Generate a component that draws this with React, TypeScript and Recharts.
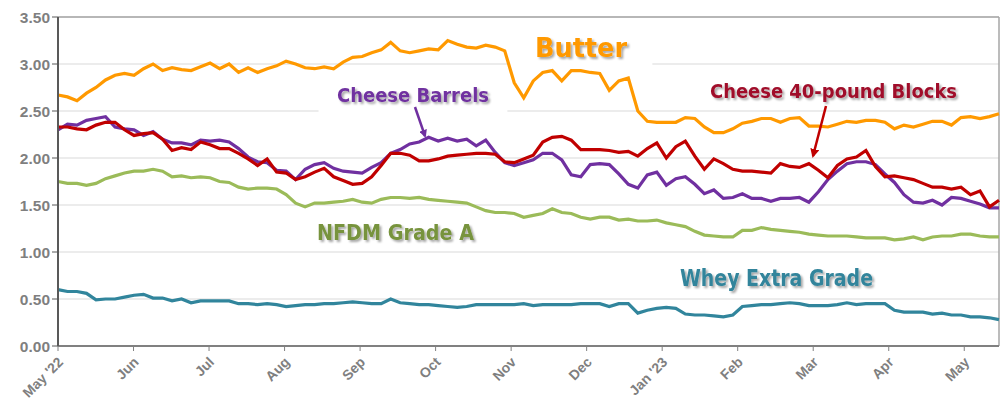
import { LineChart, Line, XAxis, YAxis, CartesianGrid, ReferenceLine, ReferenceArea } from 'recharts';

// month tick labels, one per month start
const MONTHS = ["May '22", 'Jun', 'Jul', 'Aug', 'Sep', 'Oct', 'Nov', 'Dec', "Jan '23", 'Feb', 'Mar', 'Apr', 'May'];
const Y_TICKS = [0, 0.5, 1, 1.5, 2, 2.5, 3, 3.5];

// sampled prices ($/lb), one reading every ~4 days from early May '22 to mid May '23
const BUTTER = [
  2.67, 2.65, 2.61, 2.69, 2.75, 2.83, 2.88, 2.90, 2.88, 2.95,
  3.00, 2.93, 2.96, 2.94, 2.93, 2.97, 3.01, 2.95, 3.00, 2.91,
  2.96, 2.91, 2.95, 2.98, 3.03, 3.00, 2.96, 2.95, 2.97, 2.95,
  3.02, 3.07, 3.08, 3.12, 3.15, 3.23, 3.14, 3.12, 3.14, 3.16,
  3.15, 3.25, 3.21, 3.18, 3.17, 3.20, 3.18, 3.14, 2.80, 2.64,
  2.82, 2.91, 2.93, 2.82, 2.93, 2.93, 2.91, 2.90, 2.72, 2.82,
  2.85, 2.50, 2.39, 2.38, 2.38, 2.38, 2.43, 2.42, 2.33, 2.27,
  2.27, 2.31, 2.37, 2.39, 2.42, 2.42, 2.38, 2.42, 2.43, 2.34,
  2.34, 2.33, 2.36, 2.39, 2.38, 2.40, 2.40, 2.38, 2.31, 2.35,
  2.33, 2.36, 2.39, 2.39, 2.35, 2.43, 2.44, 2.42, 2.44, 2.47,
];
const BARRELS = [
  2.30, 2.36, 2.35, 2.40, 2.42, 2.44, 2.33, 2.31, 2.30, 2.24,
  2.28, 2.20, 2.16, 2.16, 2.14, 2.19, 2.18, 2.19, 2.17, 2.10,
  2.01, 1.96, 1.95, 1.87, 1.86, 1.77, 1.88, 1.93, 1.95, 1.89,
  1.86, 1.85, 1.84, 1.90, 1.95, 2.05, 2.09, 2.15, 2.17, 2.22,
  2.18, 2.21, 2.18, 2.20, 2.13, 2.19, 2.06, 1.95, 1.92, 1.95,
  1.98, 2.05, 2.05, 1.98, 1.82, 1.80, 1.93, 1.94, 1.93, 1.83,
  1.72, 1.68, 1.82, 1.85, 1.71, 1.78, 1.80, 1.72, 1.62, 1.66,
  1.57, 1.58, 1.62, 1.57, 1.57, 1.54, 1.57, 1.57, 1.58, 1.53,
  1.64, 1.77, 1.86, 1.94, 1.96, 1.96, 1.93, 1.83, 1.74, 1.61,
  1.53, 1.52, 1.55, 1.50, 1.58, 1.57, 1.54, 1.51, 1.47, 1.47,
];
const BLOCKS = [
  2.33, 2.33, 2.31, 2.30, 2.35, 2.38, 2.38, 2.30, 2.24, 2.26,
  2.27, 2.20, 2.08, 2.11, 2.09, 2.17, 2.14, 2.10, 2.10, 2.05,
  1.99, 1.92, 1.99, 1.85, 1.84, 1.77, 1.80, 1.85, 1.89, 1.80,
  1.76, 1.72, 1.73, 1.80, 1.92, 2.05, 2.05, 2.03, 1.97, 1.97,
  1.99, 2.02, 2.03, 2.04, 2.05, 2.05, 2.04, 1.96, 1.95, 1.99,
  2.03, 2.17, 2.22, 2.23, 2.19, 2.09, 2.09, 2.09, 2.08, 2.06,
  2.07, 2.02, 2.10, 2.16, 2.00, 2.12, 2.18, 2.02, 1.88, 1.99,
  1.94, 1.88, 1.86, 1.86, 1.85, 1.84, 1.94, 1.91, 1.90, 1.94,
  1.87, 1.79, 1.92, 1.99, 2.01, 2.08, 1.91, 1.80, 1.81, 1.79,
  1.77, 1.73, 1.69, 1.69, 1.67, 1.69, 1.61, 1.65, 1.48, 1.55,
];
const NFDM = [
  1.75, 1.73, 1.73, 1.71, 1.73, 1.78, 1.81, 1.84, 1.86, 1.86,
  1.88, 1.86, 1.80, 1.81, 1.79, 1.80, 1.79, 1.75, 1.74, 1.69,
  1.67, 1.68, 1.68, 1.67, 1.61, 1.52, 1.48, 1.52, 1.52, 1.53,
  1.54, 1.56, 1.53, 1.52, 1.56, 1.58, 1.58, 1.57, 1.58, 1.56,
  1.55, 1.54, 1.53, 1.52, 1.48, 1.44, 1.42, 1.42, 1.41, 1.37,
  1.39, 1.41, 1.46, 1.42, 1.41, 1.37, 1.35, 1.37, 1.37, 1.34,
  1.35, 1.33, 1.33, 1.34, 1.31, 1.29, 1.27, 1.22, 1.18, 1.17,
  1.16, 1.16, 1.23, 1.23, 1.26, 1.24, 1.23, 1.22, 1.21, 1.19,
  1.18, 1.17, 1.17, 1.17, 1.16, 1.15, 1.15, 1.15, 1.13, 1.14,
  1.16, 1.13, 1.16, 1.17, 1.17, 1.19, 1.19, 1.17, 1.16, 1.16,
];
const WHEY = [
  0.60, 0.58, 0.58, 0.56, 0.49, 0.50, 0.50, 0.52, 0.54, 0.55,
  0.51, 0.51, 0.48, 0.50, 0.46, 0.48, 0.48, 0.48, 0.48, 0.45,
  0.45, 0.44, 0.45, 0.44, 0.42, 0.43, 0.44, 0.44, 0.45, 0.45,
  0.46, 0.47, 0.46, 0.45, 0.45, 0.50, 0.46, 0.45, 0.44, 0.44,
  0.43, 0.42, 0.41, 0.42, 0.44, 0.44, 0.44, 0.44, 0.44, 0.45,
  0.43, 0.44, 0.44, 0.44, 0.44, 0.45, 0.45, 0.45, 0.42, 0.45,
  0.45, 0.35, 0.38, 0.40, 0.41, 0.40, 0.34, 0.33, 0.33, 0.32,
  0.31, 0.33, 0.42, 0.43, 0.44, 0.44, 0.45, 0.46, 0.45, 0.43,
  0.43, 0.43, 0.44, 0.46, 0.44, 0.45, 0.45, 0.45, 0.38, 0.36,
  0.36, 0.36, 0.34, 0.35, 0.33, 0.33, 0.31, 0.31, 0.30, 0.28,
];

const X_MAX = 12.46; // mid May '23, in months since May 1 '22
const STEP = X_MAX / (BUTTER.length - 1);

const data = BUTTER.map((b, i) => ({
  t: i * STEP,
  butter: b,
  barrels: BARRELS[i],
  blocks: BLOCKS[i],
  nfdm: NFDM[i],
  whey: WHEY[i],
}));

const AXIS_FONT = '"Liberation Sans", Arial, sans-serif';
const LABEL_FONT = '"Comic Sans MS", "DejaVu Sans", sans-serif';

function MonthTick({ x, y, payload }: any) {
  const px = x + 6;
  const py = y + 10;
  return (
    <text x={px} y={py} transform={`rotate(-45 ${px} ${py})`} textAnchor="end"
      fill="#7f7f7f" fontSize={14} fontWeight="bold" fontFamily={AXIS_FONT}>
      {MONTHS[payload.value]}
    </text>
  );
}

export default function App() {
  return (
    <div style={{ position: 'fixed', left: 0, top: 0, width: 1003, height: 402, background: '#fff' }}>
      <LineChart width={1003} height={402} data={data} margin={{ top: 17, right: 4, bottom: 0, left: 0 }}>
        <CartesianGrid vertical={false} stroke="#d9d9d9" strokeWidth={1} />
        {/* white label boxes knock out the gridlines like the original */}
        <ReferenceArea x1={5.95} x2={7.87} y1={2.98} y2={3.47} fill="#fff" fillOpacity={1} stroke="none" />
        <ReferenceArea x1={3.45} x2={5.95} y1={2.48} y2={2.85} fill="#fff" fillOpacity={1} stroke="none" />
        <ReferenceLine y={3.5} stroke="#a6a6a6" strokeWidth={1.5} />
        <ReferenceLine x={X_MAX} stroke="#a6a6a6" strokeWidth={1.5} />
        <XAxis type="number" dataKey="t" domain={[0, X_MAX]} ticks={MONTHS.map((_, i) => i)}
          allowDecimals={false} height={56} interval={0}
          axisLine={{ stroke: '#808080', strokeWidth: 2 }} tickLine={{ stroke: '#808080' }} tickSize={5}
          tick={<MonthTick />} />
        <YAxis type="number" domain={[0, 3.5]} ticks={Y_TICKS} width={58} interval={0}
          tickFormatter={(v: number) => v.toFixed(2)}
          axisLine={{ stroke: '#595959', strokeWidth: 2 }} tickLine={{ stroke: '#595959' }} tickSize={6}
          tick={{ fill: '#7f7f7f', fontSize: 15.5, fontWeight: 'bold', fontFamily: AXIS_FONT }} />
        <Line type="linear" dataKey="whey" stroke="#31859c" strokeWidth={3.2} dot={false} isAnimationActive={false} />
        <Line type="linear" dataKey="nfdm" stroke="#9bbb59" strokeWidth={3.2} dot={false} isAnimationActive={false} />
        <Line type="linear" dataKey="butter" stroke="#ff9900" strokeWidth={3.2} dot={false} isAnimationActive={false} />
        <Line type="linear" dataKey="barrels" stroke="#7030a0" strokeWidth={3.2} dot={false} isAnimationActive={false} />
        <Line type="linear" dataKey="blocks" stroke="#c00000" strokeWidth={3.2} dot={false} isAnimationActive={false} />
      </LineChart>

      {/* series annotations */}
      <svg width={1003} height={402} style={{ position: 'absolute', left: 0, top: 0, pointerEvents: 'none' }}>
        <defs>
          <filter id="shadow" x="-10%" y="-30%" width="120%" height="160%">
            <feDropShadow dx="2" dy="2" stdDeviation="1.2" floodColor="#000" floodOpacity="0.35" />
          </filter>
          <marker id="headPurple" markerWidth="8" markerHeight="8" refX="6" refY="4" orient="auto" markerUnits="userSpaceOnUse">
            <path d="M0,0 L8,4 L0,8 Z" fill="#7030a0" />
          </marker>
          <marker id="headRed" markerWidth="9" markerHeight="9" refX="7" refY="4.5" orient="auto" markerUnits="userSpaceOnUse">
            <path d="M0,0 L9,4.5 L0,9 Z" fill="#c00000" />
          </marker>
        </defs>
        <g fontFamily={LABEL_FONT} fontWeight="bold" filter="url(#shadow)">
          <text x={535} y={57} fontSize={27} fill="#ff9900" textLength={92} lengthAdjust="spacingAndGlyphs">Butter</text>
          <text x={337} y={102} fontSize={20} fill="#7030a0" textLength={152} lengthAdjust="spacingAndGlyphs">Cheese Barrels</text>
          <text x={710} y={98} fontSize={20} fill="#a00f2a" textLength={247} lengthAdjust="spacingAndGlyphs">Cheese 40-pound Blocks</text>
          <text x={317} y={240} fontSize={22} fill="#77933c" textLength={157} lengthAdjust="spacingAndGlyphs">NFDM Grade A</text>
          <text x={680} y={286} fontSize={23} fill="#31849b" textLength={193} lengthAdjust="spacingAndGlyphs">Whey Extra Grade</text>
        </g>
        <line x1={415} y1={107} x2={425} y2={136} stroke="#7030a0" strokeWidth={2.5} markerEnd="url(#headPurple)" />
        <line x1={826} y1={106} x2={813} y2={156} stroke="#c00000" strokeWidth={2.5} markerEnd="url(#headRed)" />
      </svg>
    </div>
  );
}
